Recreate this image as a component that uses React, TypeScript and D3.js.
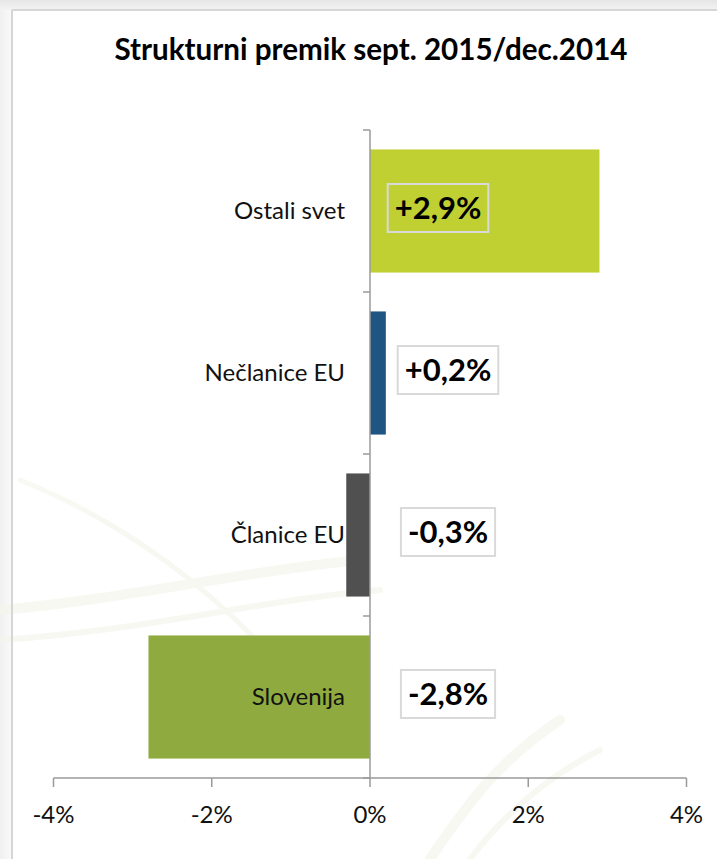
import React from "react";
import { scaleLinear, scaleBand } from "d3";

const categories = ["Ostali svet", "Nečlanice EU", "Članice EU", "Slovenija"];
const values = [2.9, 0.2, -0.3, -2.8];
const valueLabels = ["+2,9%", "+0,2%", "-0,3%", "-2,8%"];
const barColors = ["#c0d032", "#1f5582", "#505050", "#8fab3f"];
const xTicks = [-4, -2, 0, 2, 4];
const xTickLabels = ["-4%", "-2%", "0%", "2%", "4%"];

const FONT = "Lato, 'Open Sans', sans-serif";

const measure = (txt: string, font: string) => {
  const ctx = document.createElement("canvas").getContext("2d");
  if (!ctx) return txt.length * 16;
  ctx.font = font;
  return ctx.measureText(txt).width;
};

const App = () => {
  const width = 717;
  const height = 859;

  const xScale = scaleLinear().domain([-4, 4]).range([53.5, 686.5]);
  const yScale = scaleBand()
    .domain(categories)
    .range([130, 778])
    .paddingInner(0.24)
    .paddingOuter(0.12);

  const x0 = xScale(0);
  const bw = yScale.bandwidth();
  const step = yScale.step();
  const axisColor = "#9a9a9a";

  const bars = categories.map((c, i) => (
    <rect
      key={c}
      x={Math.min(xScale(values[i]), x0)}
      y={yScale(c)}
      width={Math.abs(xScale(values[i]) - x0)}
      height={bw}
      fill={barColors[i]}
    />
  ));

  const catLabels = categories.map((c) => (
    <text
      key={c}
      x={x0 - 25}
      y={(yScale(c) as number) + bw / 2}
      dy="0.35em"
      textAnchor="end"
      fontSize="24"
      fill="#111"
    >
      {c}
    </text>
  ));

  const valueFont = `bold 31px ${FONT}`;
  const boxes = categories.map((c, i) => {
    const tw = measure(valueLabels[i], valueFont);
    // label on the big bar sits a little further left
    const cx = x0 + (values[i] > 1 ? 68 : 78);
    const cy = (yScale(c) as number) + bw / 2 - 3;
    const w = tw + 14;
    return (
      <g key={c}>
        <rect
          x={cx - w / 2}
          y={cy - 24}
          width={w}
          height={48}
          fill={values[i] > 1 ? "none" : "#fff"}
          stroke="#d9d9d9"
          strokeWidth="2"
        />
        <text
          x={cx}
          y={cy}
          dy="0.36em"
          textAnchor="middle"
          fontSize="31"
          fontWeight="bold"
          fill="#000"
        >
          {valueLabels[i]}
        </text>
      </g>
    );
  });

  const yTicks = categories.concat([""]).map((c, i) => {
    const y = 130 + i * step;
    return (
      <line key={i} x1={x0 - 7} x2={x0} y1={y} y2={y} stroke={axisColor} strokeWidth="1.5" />
    );
  });

  const xAxis = xTicks.map((t, i) => (
    <g key={t}>
      <line
        x1={xScale(t)}
        x2={xScale(t)}
        y1={778}
        y2={787}
        stroke={axisColor}
        strokeWidth="1.5"
      />
      <text
        x={xScale(t)}
        y={823}
        textAnchor="middle"
        fontSize="24"
        fill="#111"
      >
        {xTickLabels[i]}
      </text>
    </g>
  ));

  return (
    <div style={{ position: "absolute", left: 0, top: 0 }}>
      <svg width={width} height={height} viewBox={`0 0 ${width} ${height}`} fontFamily={FONT}>
        <defs>
          <linearGradient id="topShade" x1="0" y1="0" x2="0" y2="1">
            <stop offset="0" stopColor="#e6e6e6" />
            <stop offset="1" stopColor="#f3f3f3" />
          </linearGradient>
          <linearGradient id="leftShade" x1="0" y1="0" x2="1" y2="0">
            <stop offset="0" stopColor="#f0f0f0" />
            <stop offset="1" stopColor="#fafafa" />
          </linearGradient>
        </defs>
        <rect width={width} height={height} fill="#fff" />
        <rect width={width} height={10} fill="url(#topShade)" />
        <rect y={10} width={12} height={height} fill="url(#leftShade)" />
        {/* faint swirl background */}
        <g fill="none" stroke="#f4f6ec" strokeLinecap="round" opacity="0.7">
          <path d="M0,610 C120,600 250,570 360,560" strokeWidth="10" />
          <path d="M0,640 C150,630 260,600 380,590" strokeWidth="6" />
          <path d="M430,859 C470,800 500,760 560,720" strokeWidth="10" />
          <path d="M470,859 C500,820 540,780 600,750" strokeWidth="6" />
          <path d="M20,480 C120,520 220,590 300,690" strokeWidth="5" />
        </g>
        <line x1={12} x2={width} y1={10} y2={10} stroke="#d6d6d6" strokeWidth="2" />
        <line x1={12} x2={12} y1={10} y2={height} stroke="#d6d6d6" strokeWidth="2" />

        <text
          x={371}
          y={60}
          textAnchor="middle"
          fontSize="29.6"
          fontWeight="bold"
          fill="#000"
        >
          Strukturni premik sept. 2015/dec.2014
        </text>

        {bars}
        <line x1={x0} x2={x0} y1={130} y2={778} stroke={axisColor} strokeWidth="1.5" />
        {yTicks}
        <line x1={xScale(-4)} x2={xScale(4)} y1={778} y2={778} stroke={axisColor} strokeWidth="1.5" />
        {xAxis}
        {catLabels}
        {boxes}
      </svg>
    </div>
  );
};

export default App;
